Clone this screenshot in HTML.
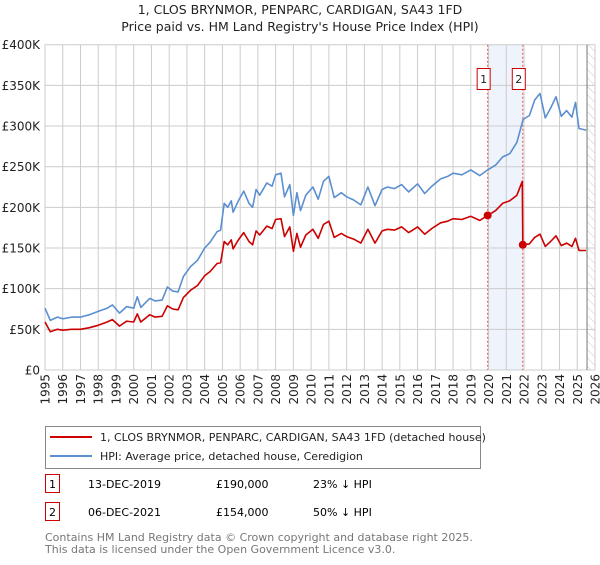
<!DOCTYPE html>
<html><head><meta charset="utf-8"><style>
body{margin:0;background:#fff;font-family:"Liberation Sans","DejaVu Sans",sans-serif;}
svg text{font-family:"DejaVu Sans","Liberation Sans",sans-serif;}
</style></head><body>
<svg id="chart" width="600" height="560" xmlns="http://www.w3.org/2000/svg">
<defs><pattern id="hatch" width="6" height="6" patternUnits="userSpaceOnUse" patternTransform="rotate(-45)"><line x1="0" y1="0" x2="0" y2="6" stroke="#ccc" stroke-width="1"/></pattern></defs>
<text x="300" y="14" text-anchor="middle" font-size="12.5" fill="#222">1, CLOS BRYNMOR, PENPARC, CARDIGAN, SA43 1FD</text>
<text x="300" y="31" text-anchor="middle" font-size="12.5" fill="#222">Price paid vs. HM Land Registry's House Price Index (HPI)</text>
<g id="grid"></g><g id="marks"></g><g id="axes"></g>
<rect x="45.5" y="426.5" width="435" height="42" fill="#fff" stroke="#888"/>
<line x1="50" y1="437" x2="92" y2="437" stroke="#cc0000" stroke-width="2"/>
<text x="100" y="441" font-size="11" fill="#222">1, CLOS BRYNMOR, PENPARC, CARDIGAN, SA43 1FD (detached house)</text>
<line x1="50" y1="456" x2="92" y2="456" stroke="#5b8fd0" stroke-width="2"/>
<text x="100" y="460" font-size="11" fill="#222">HPI: Average price, detached house, Ceredigion</text>
<g>
<rect x="45.5" y="474.5" width="14" height="18" fill="#fff" stroke="#cc0000"/>
<text x="52.5" y="488" text-anchor="middle" font-size="11">1</text>
<text x="88" y="488" font-size="11">13-DEC-2019</text>
<text x="216" y="488" font-size="11">£190,000</text>
<text x="313" y="488" font-size="11">23% ↓ HPI</text></g>
<g>
<rect x="45.5" y="502.5" width="14" height="18" fill="#fff" stroke="#cc0000"/>
<text x="52.5" y="516" text-anchor="middle" font-size="11">2</text>
<text x="88" y="516" font-size="11">06-DEC-2021</text>
<text x="216" y="516" font-size="11">£154,000</text>
<text x="313" y="516" font-size="11">50% ↓ HPI</text></g>
<text x="45" y="541" font-size="11" fill="#777">Contains HM Land Registry data © Crown copyright and database right 2025.</text>
<text x="45" y="553" font-size="11" fill="#777">This data is licensed under the Open Government Licence v3.0.</text>
</svg>
<script>
const yTicks=[0,50,100,150,200,250,300,350,400];
const yTickLabels=["£0","£50K","£100K","£150K","£200K","£250K","£300K","£350K","£400K"];
const xTicks=[1995,1996,1997,1998,1999,2000,2001,2002,2003,2004,2005,2006,2007,2008,2009,2010,2011,2012,2013,2014,2015,2016,2017,2018,2019,2020,2021,2022,2023,2024,2025,2026];
const hpiYears=[1995.0,1995.3,1995.7,1996.0,1996.5,1997.0,1997.5,1998.0,1998.5,1998.8,1999.2,1999.6,2000.0,2000.2,2000.4,2000.9,2001.2,2001.6,2001.9,2002.2,2002.5,2002.8,2003.2,2003.6,2004.0,2004.3,2004.7,2004.9,2005.1,2005.3,2005.5,2005.6,2005.9,2006.2,2006.5,2006.7,2006.9,2007.1,2007.5,2007.8,2008.0,2008.3,2008.5,2008.8,2009.0,2009.2,2009.4,2009.7,2010.1,2010.4,2010.7,2011.0,2011.3,2011.7,2012.0,2012.4,2012.8,2013.2,2013.6,2014.0,2014.3,2014.7,2015.1,2015.5,2016.0,2016.4,2016.8,2017.3,2017.7,2018.0,2018.5,2019.0,2019.5,2019.95,2020.4,2020.8,2021.2,2021.6,2021.95,2022.3,2022.6,2022.9,2023.2,2023.5,2023.8,2024.1,2024.4,2024.7,2024.9,2025.1,2025.5];
const hpiValues=[76,61,65,63,65,65,68,72,76,80,70,78,76,90,77,88,85,86,102,97,96,115,127,135,150,157,170,172,205,200,208,194,208,220,205,200,222,215,230,226,240,242,213,228,190,218,196,215,225,210,232,238,212,218,213,209,203,225,202,222,225,223,228,219,229,217,226,235,238,242,240,246,239,246,252,262,266,280,308,313,332,340,310,322,336,312,319,311,329,297,295];
const propYears=[1995.0,1995.3,1995.7,1996.0,1996.5,1997.0,1997.5,1998.0,1998.5,1998.8,1999.2,1999.6,2000.0,2000.2,2000.4,2000.9,2001.2,2001.6,2001.9,2002.2,2002.5,2002.8,2003.2,2003.6,2004.0,2004.3,2004.7,2004.9,2005.1,2005.3,2005.5,2005.6,2005.9,2006.2,2006.5,2006.7,2006.9,2007.1,2007.5,2007.8,2008.0,2008.3,2008.5,2008.8,2009.0,2009.2,2009.4,2009.7,2010.1,2010.4,2010.7,2011.0,2011.3,2011.7,2012.0,2012.4,2012.8,2013.2,2013.6,2014.0,2014.3,2014.7,2015.1,2015.5,2016.0,2016.4,2016.8,2017.3,2017.7,2018.0,2018.5,2019.0,2019.5,2019.95,2020.4,2020.8,2021.2,2021.6,2021.9,2021.93,2022.3,2022.6,2022.9,2023.2,2023.5,2023.8,2024.1,2024.4,2024.7,2024.9,2025.1,2025.5];
const propValues=[59,47,50,49,50,50,52,55,59,62,54,60,59,69,59,68,65,66,79,75,74,89,98,104,116,121,131,132,158,154,160,149,160,169,158,154,171,166,177,174,185,186,164,176,146,168,151,166,173,162,179,183,163,168,164,161,156,173,156,171,173,172,176,169,176,167,174,181,183,186,185,189,184,190,196,205,208,215,232,154,155,163,167,152,158,165,153,156,152,162,147,147];
const saleYears=[2019.95,2021.93];
const saleValues=[190,154];
const saleLabels=["1","2"];

const NS="http://www.w3.org/2000/svg";
const X0=45,X1=595,Y0=370,Y1=44.7;
const xs=y=>X0+(y-1995)/(2026-1995)*(X1-X0);
const ys=v=>Y0-v/400*(Y0-Y1);
function mk(tag,attrs,parent){const e=document.createElementNS(NS,tag);for(const k in attrs)e.setAttribute(k,attrs[k]);parent.appendChild(e);return e;}
const grid=document.getElementById('grid'),marks=document.getElementById('marks'),axes=document.getElementById('axes');
// shaded sale region
const sh=mk('rect',{x:xs(saleYears[0]),y:Y1,width:xs(saleYears[1])-xs(saleYears[0]),height:Y0-Y1,fill:'#eef3fc'},grid);


yTicks.forEach((t,i)=>{
 const l=mk('line',{x1:X0,x2:X1,y1:ys(t),y2:ys(t),stroke:'#ccc','stroke-width':1},grid);
 
 
 const tx=mk('text',{x:40,y:ys(t)+4.5,'text-anchor':'end','font-size':12,fill:'#222'},axes);
 tx.textContent=yTickLabels[i];
 
 
});
xTicks.forEach(t=>{
 const l=mk('line',{x1:xs(t),x2:xs(t),y1:Y1,y2:Y0,stroke:'#ccc','stroke-width':1},grid);
 
 
 const tx=mk('text',{x:0,y:0,'text-anchor':'end','font-size':12,fill:'#222',transform:`translate(${xs(t)+4.5},${Y0+4}) rotate(-90)`},axes);
 tx.textContent=t;
 
 
});
// future hatch
const hx=xs(2025.55);
const hr=mk('rect',{x:hx,y:Y1,width:X1-hx,height:Y0-Y1,fill:'url(#hatch)'},grid);


const hl=mk('line',{x1:hx,x2:hx,y1:Y1,y2:Y0,stroke:'#777','stroke-width':1},grid);


saleYears.forEach((s,i)=>{
 const l=mk('line',{x1:xs(s),x2:xs(s),y1:Y1,y2:Y0,stroke:'#e55','stroke-width':1,'stroke-dasharray':'2,2'},grid);
 
 
});
function path(xv,yv,color,name){
 const d=xv.map((x,i)=>(i?'L':'M')+xs(x).toFixed(1)+','+ys(yv[i]).toFixed(1)).join('');
 const p=mk('path',{d:d,fill:'none',stroke:color,'stroke-width':1.6,'stroke-linejoin':'round'},marks);
 
 
}
path(hpiYears,hpiValues,'#5b8fd0','hpi-line');
path(propYears,propValues,'#cc0000','property-price-line');
saleYears.forEach((s,i)=>{
 const c=mk('circle',{cx:xs(s),cy:ys(saleValues[i]),r:4,fill:'#cc0000'},marks);
 
 
 const b=mk('rect',{x:xs(s)-10.5,y:68.5,width:13,height:21,fill:'#fff',stroke:'#cc0000'},marks);
 
 
 const t=mk('text',{x:xs(s)-4,y:83,'text-anchor':'middle','font-size':11,fill:'#222'},marks);
 t.textContent=saleLabels[i];
 
 
});
</script>
</body></html>
